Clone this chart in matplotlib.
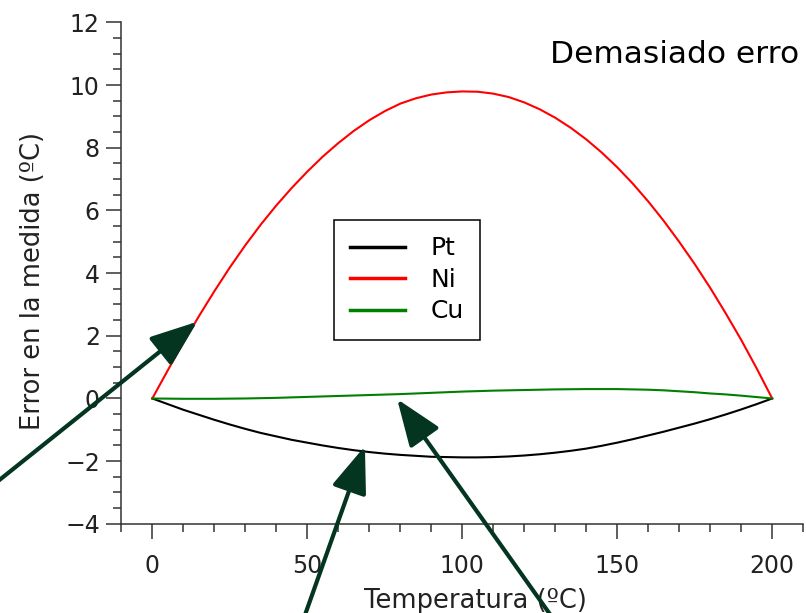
import numpy as np
import matplotlib
matplotlib.use("Agg")
import matplotlib.pyplot as plt
from matplotlib.ticker import MultipleLocator

# --- data (every 5 ºC) ---
temps = np.arange(0, 201, 5)
err_pt = [0, -0.18, -0.36, -0.52, -0.68, -0.83, -0.97, -1.10, -1.21, -1.32, -1.41,
          -1.50, -1.58, -1.65, -1.71, -1.76, -1.80, -1.83, -1.86, -1.87, -1.88,
          -1.88, -1.87, -1.85, -1.82, -1.78, -1.73, -1.67, -1.60, -1.51, -1.41,
          -1.30, -1.18, -1.06, -0.93, -0.80, -0.66, -0.51, -0.35, -0.18, 0]
err_ni = [0, 0.90, 1.78, 2.62, 3.42, 4.18, 4.89, 5.55, 6.16, 6.72, 7.24,
          7.72, 8.15, 8.54, 8.88, 9.17, 9.41, 9.58, 9.70, 9.77, 9.80,
          9.79, 9.73, 9.62, 9.45, 9.23, 8.96, 8.64, 8.27, 7.85, 7.38,
          6.86, 6.29, 5.67, 5.00, 4.29, 3.53, 2.72, 1.87, 0.96, 0]
err_cu = [0, -0.005, -0.01, -0.01, -0.01, -0.005, 0.0, 0.01, 0.02, 0.035, 0.05,
          0.065, 0.08, 0.095, 0.11, 0.125, 0.14, 0.16, 0.18, 0.20, 0.22,
          0.235, 0.25, 0.26, 0.27, 0.28, 0.29, 0.295, 0.30, 0.30, 0.30,
          0.29, 0.28, 0.26, 0.23, 0.20, 0.16, 0.13, 0.09, 0.045, 0]
labels = ["Pt", "Ni", "Cu"]

# arrows: (tip, tail) in data units
arrows = [((14.5, 2.45), (-55.0, -3.05)),
          ((68.6, -1.52), (47.5, -7.4)),
          ((79.0, -0.02), (132.0, -7.4))]

fig = plt.figure(figsize=(8.06, 6.13), dpi=100)
ax = fig.add_axes([0.1505, 0.1455, 0.846, 0.8178])

ax.plot(temps, err_pt, color="black", lw=1.5, label=labels[0])
ax.plot(temps, err_ni, color="red", lw=1.5, label=labels[1])
ax.plot(temps, err_cu, color="green", lw=1.5, label=labels[2])

ax.set_xlim(-10, 210)
ax.set_ylim(-4, 12)
ax.xaxis.set_major_locator(MultipleLocator(50))
ax.xaxis.set_minor_locator(MultipleLocator(10))
ax.yaxis.set_major_locator(MultipleLocator(2))
ax.yaxis.set_minor_locator(MultipleLocator(0.5))

for s in ["top", "right"]:
    ax.spines[s].set_visible(False)
for s in ["left", "bottom"]:
    ax.spines[s].set_color("#333333")
    ax.spines[s].set_linewidth(1.1)

ax.tick_params(which="both", direction="out", color="#333333", width=1.1,
               labelsize=17, labelcolor="#222222")
ax.tick_params(which="major", length=10.5)
ax.tick_params(which="minor", length=6)
ax.tick_params(axis="x", pad=11)
ax.tick_params(axis="y", pad=5)

ax.set_xlabel("Temperatura (ºC)", fontsize=18.5, color="#222222")
ax.set_ylabel("Error en la medida (ºC)", fontsize=18.5, color="#222222")
ax.xaxis.set_label_coords(0.519, -0.128)
ax.yaxis.set_label_coords(-0.11, 0.484)

leg = ax.legend(loc="upper left", bbox_to_anchor=(0.312, 0.606), borderaxespad=0,
                fontsize=18, handlelength=2.2, handletextpad=1.0, borderpad=0.65,
                labelspacing=0.3, fancybox=False, framealpha=1, edgecolor="black")
leg.get_frame().set_linewidth(1.1)
for line in leg.get_lines():
    line.set_linewidth(2.5)

for tip, tail in arrows:
    ax.annotate("", xy=tip, xytext=tail, annotation_clip=False,
                arrowprops=dict(arrowstyle="-|>,head_length=2.9,head_width=1.1",
                                mutation_scale=10, color="#033520", lw=3,
                                shrinkA=0, shrinkB=0))

fig.text(550 / 806, 1 - 63 / 613, "Demasiado erro", fontsize=22.5,
         va="baseline", ha="left")

fig.savefig("out.png", dpi=100)
